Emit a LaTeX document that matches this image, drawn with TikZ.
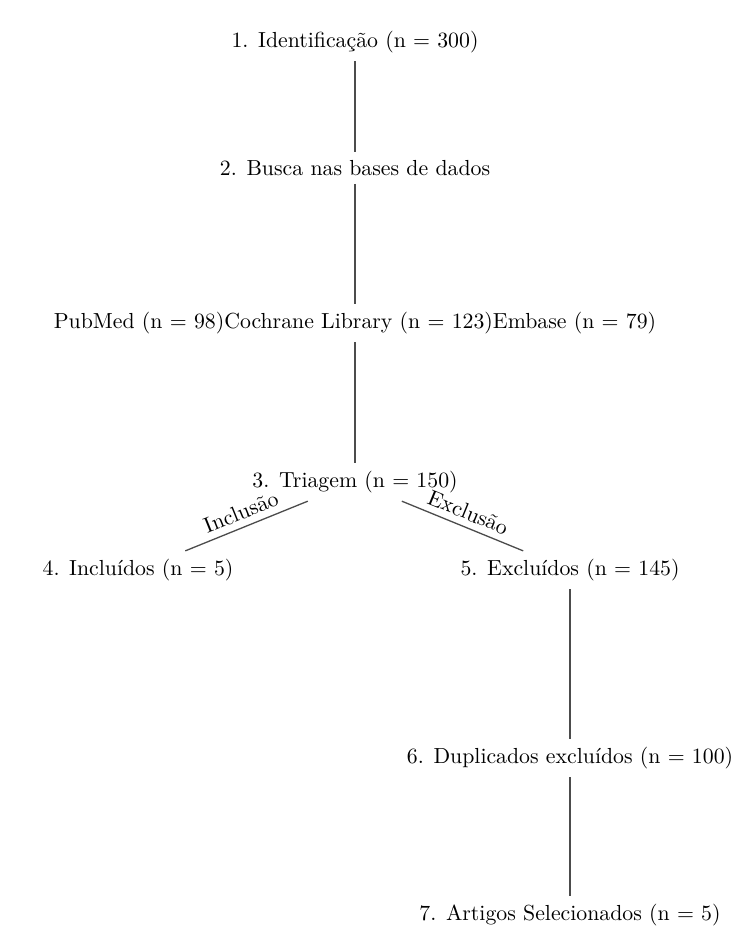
\documentclass[tikz,border=0pt]{standalone}
\usepackage{tikz}
\usetikzlibrary{positioning, calc}

\begin{document}
\begin{tikzpicture}[
  box/.style={inner sep=3.6pt},
  link/.style={draw=black!70, line width=0.6pt},
  tag/.style={above, sloped, midway, inner sep=3pt}
]
\useasboundingbox (0,0) rectangle (12.03,-15.29);

% main column
\node[box] (ident)   at (5.726,-0.677)  {1. Identificação (n = 300)};
\node[box] (busca)   at (5.726,-2.710)  {2. Busca nas bases de dados};
\node[box] (bases)   at (5.726,-5.210)  {PubMed (n = 98)Cochrane Library (n = 123)Embase (n = 79)};
\node[box] (triagem) at (5.726,-7.774)  {3. Triagem (n = 150)};

% split after screening
\node[box] (incl)    at (2.226,-9.194)  {4. Incluídos (n = 5)};
\node[box] (excl)    at (9.194,-9.194)  {5. Excluídos (n = 145)};
\node[box] (dup)     at (9.194,-12.226) {6. Duplicados excluídos (n = 100)};
\node[box] (sel)     at (9.194,-14.758) {7. Artigos Selecionados (n = 5)};

\draw[link] (ident) -- (busca);
\draw[link] (busca) -- (bases);
\draw[link] (bases) -- (triagem);
\draw[link] (triagem) -- node[tag] {Inclusão} (incl);
\draw[link] (triagem) -- node[tag] {Exclusão} (excl);
\draw[link] (excl) -- (dup);
\draw[link] (dup) -- (sel);

\end{tikzpicture}
\end{document}
